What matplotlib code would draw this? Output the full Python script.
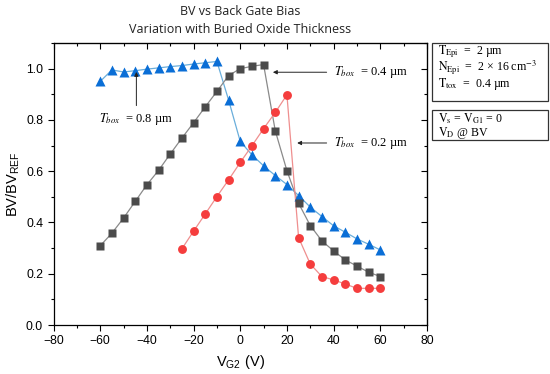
import numpy as np
import matplotlib
matplotlib.use("Agg")
import matplotlib.pyplot as plt
from matplotlib.patches import Rectangle

# Data
vg2_blue = [-60, -55, -50, -45, -40, -35, -30, -25, -20, -15, -10, -5, 0,
            5, 10, 15, 20, 25, 30, 35, 40, 45, 50, 55, 60]
bv_blue = [0.95, 0.995, 0.987, 0.992, 0.998, 1.003, 1.008, 1.012, 1.018, 1.023,
           1.028, 0.878, 0.716, 0.664, 0.621, 0.583, 0.548, 0.505, 0.46, 0.423,
           0.387, 0.362, 0.336, 0.315, 0.293]

vg2_gray = [-60, -55, -50, -45, -40, -35, -30, -25, -20, -15, -10, -5, 0,
            5, 10, 15, 20, 25, 30, 35, 40, 45, 50, 55, 60]
bv_gray = [0.309, 0.358, 0.417, 0.482, 0.547, 0.603, 0.667, 0.729, 0.789, 0.851,
           0.911, 0.973, 1.0, 1.009, 1.016, 0.758, 0.602, 0.475, 0.388, 0.328,
           0.289, 0.254, 0.23, 0.206, 0.189]

vg2_red = [-25, -20, -15, -10, -5, 0, 5, 10, 15, 20, 25, 30, 35, 40, 45, 50, 55, 60]
bv_red = [0.297, 0.366, 0.433, 0.501, 0.566, 0.634, 0.699, 0.766, 0.829, 0.898,
          0.341, 0.238, 0.189, 0.176, 0.16, 0.143, 0.143, 0.143]

x_ticks = [-80, -60, -40, -20, 0, 20, 40, 60, 80]
y_ticks = [0.0, 0.2, 0.4, 0.6, 0.8, 1.0]

plt.rcParams["font.family"] = ["Liberation Sans", "DejaVu Sans"]
plt.rcParams["mathtext.fontset"] = "stix"

fig = plt.figure(figsize=(5.5, 3.74), dpi=100)
ax = fig.add_axes([0.0973, 0.131, 0.679, 0.754])

ax.plot(vg2_blue, bv_blue, "-", color="#6aaedb", lw=0.9, zorder=2)
ax.plot(vg2_blue, bv_blue, "^", color="#0a6ed6", ms=7.4, mec="none", zorder=3)
ax.plot(vg2_gray, bv_gray, "-", color="#8a8a8a", lw=0.9, zorder=2)
ax.plot(vg2_gray, bv_gray, "s", color="#4b4b4b", ms=5.2, mec="none", zorder=3)
ax.plot(vg2_red, bv_red, "-", color="#ef8f8f", lw=0.9, zorder=2)
ax.plot(vg2_red, bv_red, "o", color="#f53d3d", ms=6.4, mec="none", zorder=3)

ax.set_xlim(-80, 80)
ax.set_ylim(0, 1.1)
ax.set_xticks(x_ticks)
ax.set_xticks(np.arange(-80, 81, 10), minor=True)
ax.set_yticks(y_ticks)
ax.set_yticks(np.arange(0, 1.11, 0.1), minor=True)
ax.set_yticklabels([f"{v:.1f}" for v in y_ticks])
ax.tick_params(which="both", direction="out", labelsize=8.8, width=0.8)
ax.tick_params(which="major", length=4)
ax.tick_params(which="minor", length=2.5)
for s in ax.spines.values():
    s.set_linewidth(0.9)

top = ax.secondary_xaxis("top")
top.set_xticks(x_ticks)
top.set_xticks(np.arange(-80, 81, 10), minor=True)
top.tick_params(which="both", direction="in", labeltop=False, width=0.8)
top.tick_params(which="major", length=4)
top.tick_params(which="minor", length=2.5)
right = ax.secondary_yaxis("right")
right.set_yticks(y_ticks)
right.set_yticks(np.arange(0, 1.11, 0.1), minor=True)
right.tick_params(which="both", direction="in", labelright=False, width=0.8)
right.tick_params(which="major", length=4)
right.tick_params(which="minor", length=2.5)

ax.set_xlabel(r"V$_{\mathregular{G2}}$ (V)", fontsize=10.5, labelpad=4)
ax.set_ylabel(r"BV/BV$_{\mathregular{REF}}$", fontsize=10.5, labelpad=3)

fig.text(0.437, 0.969, "BV vs Back Gate Bias", ha="center", va="center",
         fontsize=9, color="#222222", family=["Open Sans", "DejaVu Sans"])
fig.text(0.437, 0.922, "Variation with Buried Oxide Thickness", ha="center",
         va="center", fontsize=9, color="#222222",
         family=["Open Sans", "DejaVu Sans"])

serif = ["Liberation Serif", "DejaVu Serif"]
arrow = dict(arrowstyle="-|>", color="#222222", lw=0.7, mutation_scale=6)
ax.annotate("", xy=(-44.5, 0.998), xytext=(-44.5, 0.845), arrowprops=arrow)
ax.text(-60.5, 0.803, r"$T_{box}$  = 0.8 µm", fontsize=9, family=serif,
        va="center", ha="left")
ax.annotate("", xy=(12.8, 0.986), xytext=(38.2, 0.986), arrowprops=arrow)
ax.text(40.3, 0.986, r"$T_{box}$  = 0.4 µm", fontsize=9, family=serif,
        va="center", ha="left")
ax.annotate("", xy=(23.2, 0.71), xytext=(38.2, 0.71), arrowprops=arrow)
ax.text(40.3, 0.71, r"$T_{box}$  = 0.2 µm", fontsize=9, family=serif,
        va="center", ha="left")

# parameter boxes on the right
fig.add_artist(Rectangle((432 / 550, 1 - 101 / 374), 116 / 550, 58 / 374,
                         transform=fig.transFigure, fill=False, lw=0.9,
                         edgecolor="#333333"))
fig.add_artist(Rectangle((432 / 550, 1 - 140 / 374), 116 / 550, 30 / 374,
                         transform=fig.transFigure, fill=False, lw=0.9,
                         edgecolor="#333333"))
box1 = [r"$\mathrm{T_{Epi}}$  =  2 µm",
        r"$\mathrm{N_{Epi}}$  =  2 × 16 cm$^{-3}$",
        r"$\mathrm{T_{tox}}$  =  0.4 µm"]
for i, line in enumerate(box1):
    fig.text(438 / 550, 1 - (52 + i * 16) / 374, line, fontsize=8.6,
             family=serif, va="center", ha="left")
box2 = [r"$\mathrm{V_s}$ = $\mathrm{V_{G1}}$ = 0", r"$\mathrm{V_D}$ @ BV"]
for i, line in enumerate(box2):
    fig.text(438 / 550, 1 - (119 + i * 14) / 374, line, fontsize=8.6,
             family=serif, va="center", ha="left")

fig.savefig("out.png", dpi=100)
